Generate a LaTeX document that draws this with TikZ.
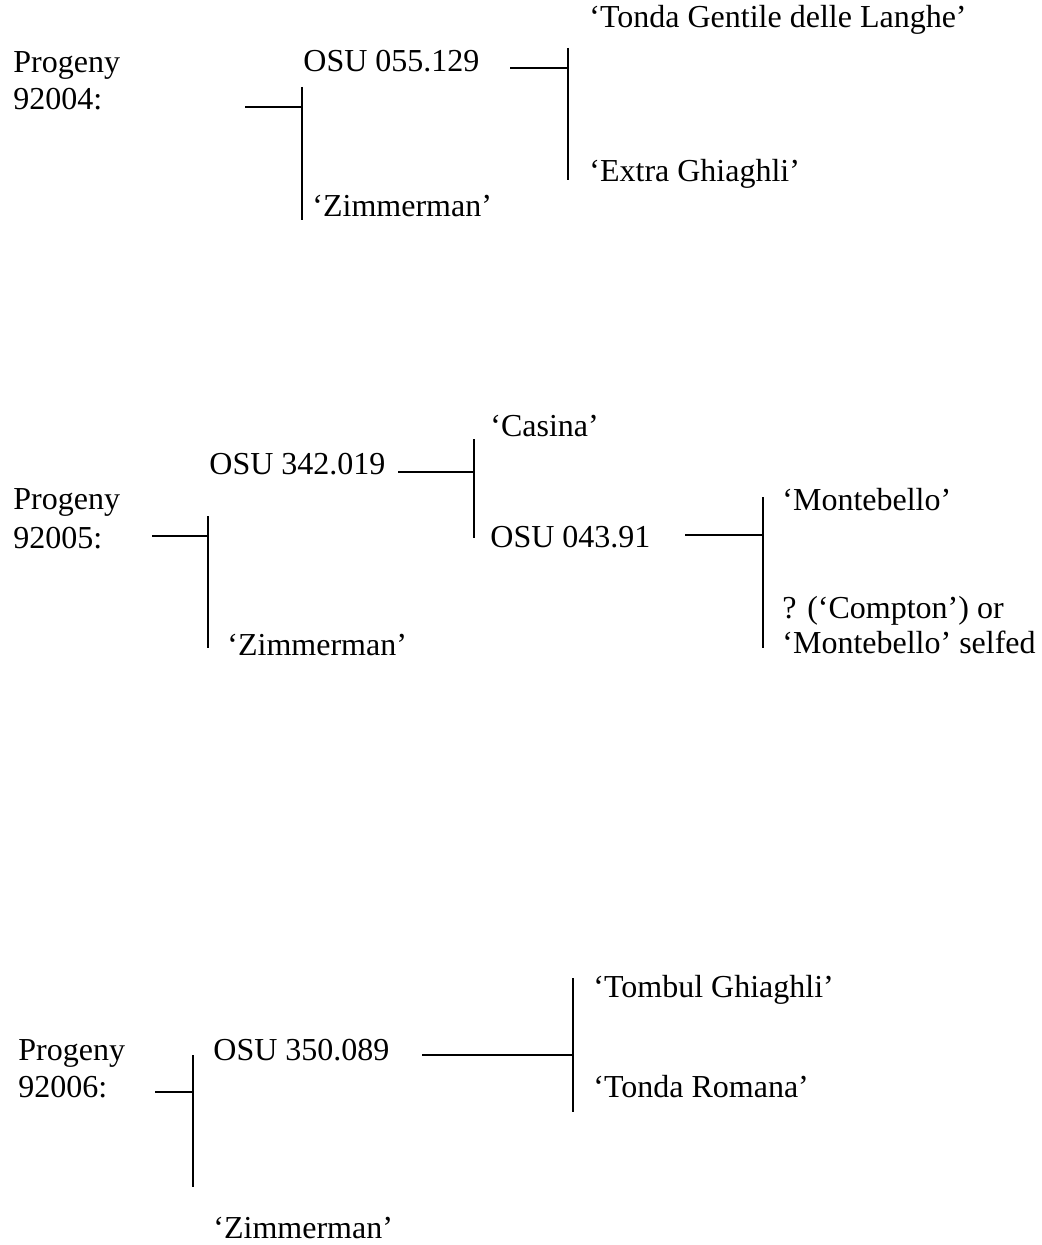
\documentclass[tikz,border=0pt]{standalone}
\usepackage{fontspec}
\setmainfont{Liberation Serif}
\usetikzlibrary{positioning}
\newcommand*{\cv}[1]{‘#1’}
\tikzset{
  txt/.style={anchor=base west,inner sep=0pt,font=\fontsize{16}{19}\selectfont},
  link/.style={line width=0.9pt}
}

\begin{document}
\begin{tikzpicture}[x=0.5pt,y=-0.5pt]
\useasboundingbox (0,0) rectangle (1041,1245);
% Progeny 92004
\node[txt] (p1a) at (13,73) {Progeny};
\node[txt] (p1b) at (13,110) {92004:};
\node[txt] (osu1) at (303,72) {OSU 055.129};
\node[txt] (zim1) at (312,217) {\cv{Zimmerman}};
\node[txt] (tgl) at (589,28) {\cv{Tonda Gentile delle Langhe}};
\node[txt] (exg) at (589,182) {\cv{Extra Ghiaghli}};
% Bracket from the progeny to its parents
\coordinate (s1) at (245,107);
\coordinate (j1) at (302,107);
\coordinate (j1t) at (302,87);
\coordinate (j1b) at (302,220);
\draw[link] (s1) -- (j1);
\draw[link] (j1t) -- (j1b);
% Bracket from OSU 055.129 to its parents
\coordinate (s2) at (510,68);
\coordinate (j2) at (568,68);
\coordinate (j2t) at (568,48);
\coordinate (j2b) at (568,180);
\draw[link] (s2) -- (j2);
\draw[link] (j2t) -- (j2b);

% Progeny 92005
\node[txt] (p2a) at (13,509) {Progeny};
\node[txt] (p2b) at (13,548) {92005:};
\node[txt] (osu2) at (209,474) {OSU 342.019};
\node[txt] (zim2) at (227,655) {\cv{Zimmerman}};
\node[txt] (cas) at (490,437) {\cv{Casina}};
\node[txt] (osu3) at (490,547) {OSU 043.91};
\node[txt] (mon) at (782,510) {\cv{Montebello}};
\node[txt] (cmp) at (782,618) {? (\cv{Compton}) or};
\node[txt] (slf) at (782,653) {\cv{Montebello} selfed};
% Bracket from the progeny to its parents
\coordinate (s3) at (152,536);
\coordinate (j3) at (208,536);
\coordinate (j3t) at (208,516);
\coordinate (j3b) at (208,648);
\draw[link] (s3) -- (j3);
\draw[link] (j3t) -- (j3b);
% Bracket from OSU 342.019 to its parents
\coordinate (s4) at (398,472);
\coordinate (j4) at (474,472);
\coordinate (j4t) at (474,439);
\coordinate (j4b) at (474,538);
\draw[link] (s4) -- (j4);
\draw[link] (j4t) -- (j4b);
% Bracket from OSU 043.91 to its parents
\coordinate (s5) at (685,535);
\coordinate (j5) at (763,535);
\coordinate (j5t) at (763,497);
\coordinate (j5b) at (763,648);
\draw[link] (s5) -- (j5);
\draw[link] (j5t) -- (j5b);

% Progeny 92006
\node[txt] (p3a) at (18,1060) {Progeny};
\node[txt] (p3b) at (18,1097) {92006:};
\node[txt] (osu4) at (213,1060) {OSU 350.089};
\node[txt] (zim3) at (213,1238) {\cv{Zimmerman}};
\node[txt] (tgh) at (593,997) {\cv{Tombul Ghiaghli}};
\node[txt] (trm) at (593,1097) {\cv{Tonda Romana}};
% Bracket from the progeny to its parents
\coordinate (s6) at (155,1092);
\coordinate (j6) at (193,1092);
\coordinate (j6t) at (193,1055);
\coordinate (j6b) at (193,1187);
\draw[link] (s6) -- (j6);
\draw[link] (j6t) -- (j6b);
% Bracket from OSU 350.089 to its parents
\coordinate (s7) at (422,1055);
\coordinate (j7) at (573,1055);
\coordinate (j7t) at (573,978);
\coordinate (j7b) at (573,1112);
\draw[link] (s7) -- (j7);
\draw[link] (j7t) -- (j7b);
\end{tikzpicture}
\end{document}
